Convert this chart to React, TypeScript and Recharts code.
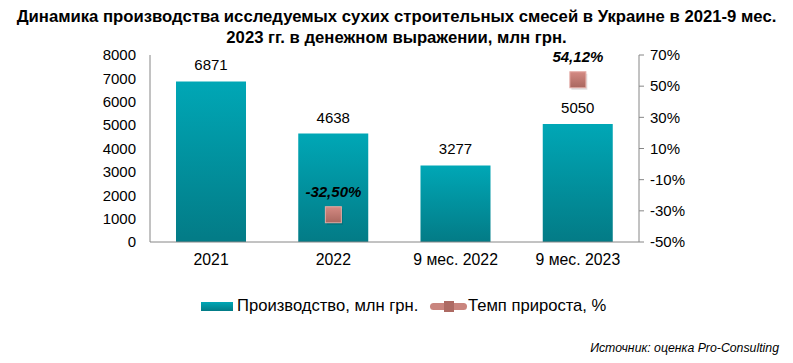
import React from "react";
import { ComposedChart, Bar, Line, XAxis, YAxis, LabelList } from "recharts";

const categories = ["2021", "2022", "9 мес. 2022", "9 мес. 2023"];
const production = [6871, 4638, 3277, 5050];
const growth: (number | null)[] = [null, -32.5, null, 54.12];
const leftTicks = [0, 1000, 2000, 3000, 4000, 5000, 6000, 7000, 8000];
const rightTicks = [-50, -30, -10, 10, 30, 50, 70];

const data = categories.map((c, i) => ({ name: c, production: production[i], growth: growth[i] }));

const FONT = "'Liberation Sans', Arial, sans-serif";
const AXIS = "#868686";

const fmtPct = (v: number) => v.toFixed(2).replace(".", ",") + "%";

const Marker = (props: any) => {
  const { cx, cy, value, payload } = props;
  const v = value ?? payload?.growth;
  if (v === null || v === undefined || cx == null || cy == null || isNaN(cy)) return null;
  const s = 16;
  return (
    <g>
      <rect x={cx - s / 2 + 1.5} y={cy - s / 2 + 2} width={s} height={s} fill="#000" opacity={0.12} />
      <rect x={cx - s / 2} y={cy - s / 2} width={s} height={s} fill="url(#mk)" stroke="#e3aaa4" strokeWidth={1} />
    </g>
  );
};

const PctLabel = (props: any) => {
  const { x, y, value } = props;
  if (value === null || value === undefined || y == null || isNaN(y)) return null;
  return (
    <text x={x} y={y - 18} textAnchor="middle" fontFamily={FONT} fontSize={15} fontWeight="bold" fontStyle="italic" fill="#000">
      {fmtPct(value)}
    </text>
  );
};

export default function App() {
  return (
    <div style={{ position: "absolute", left: 0, top: 0, width: 793, height: 363, background: "#fff", fontFamily: FONT }}>
      <div
        style={{
          position: "absolute",
          left: 0,
          top: 6,
          width: 793,
          textAlign: "center",
          fontFamily: FONT,
          fontWeight: "bold",
          fontSize: 16.7,
          lineHeight: "21px",
          color: "#000",
        }}
      >
        Динамика производства исследуемых сухих строительных смесей в Украине в 2021-9 мес.
        <br />
        2023 гг. в денежном выражении, млн грн.
      </div>
      <ComposedChart
        width={793}
        height={363}
        data={data}
        margin={{ top: 55, right: 0, bottom: 91, left: 0 }}
        style={{ position: "absolute", left: 0, top: 0 }}
      >
        <defs>
          <linearGradient id="bar" x1="0" y1="0" x2="0" y2="1">
            <stop offset="0%" stopColor="#00a7b6" />
            <stop offset="100%" stopColor="#037b86" />
          </linearGradient>
          <linearGradient id="mk" x1="0" y1="0" x2="0" y2="1">
            <stop offset="0%" stopColor="#d48a83" />
            <stop offset="100%" stopColor="#a9675f" />
          </linearGradient>
        </defs>
        <XAxis
          dataKey="name"
          height={30}
          stroke={AXIS}
          tickLine={false}
          tickSize={4}
          tickMargin={8}
          tick={{ fill: "#000", fontSize: 15.8, fontFamily: FONT }}
          interval={0}
        />
        <YAxis
          yAxisId="left"
          width={150}
          domain={[0, 8000]}
          ticks={leftTicks}
          stroke={AXIS}
          tickLine={false}
          tickSize={6}
          tickMargin={8}
          tick={{ fill: "#000", fontSize: 15, fontFamily: FONT }}
          interval={0}
        />
        <YAxis
          yAxisId="right"
          orientation="right"
          width={154}
          domain={[-50, 70]}
          ticks={rightTicks}
          stroke={AXIS}
          tickSize={5}
          tickMargin={6}
          tickFormatter={(v: number) => v + "%"}
          tick={{ fill: "#000", fontSize: 15, fontFamily: FONT }}
          interval={0}
        />
        <Bar yAxisId="left" dataKey="production" fill="url(#bar)" barSize={70} isAnimationActive={false}>
          <LabelList dataKey="production" position="top" offset={11} fill="#000" fontSize={15} fontFamily={FONT} />
        </Bar>
        <Line
          yAxisId="right"
          dataKey="growth"
          stroke="none"
          dot={<Marker />}
          activeDot={false}
          isAnimationActive={false}
          connectNulls={false}
        >
          <LabelList dataKey="growth" content={<PctLabel />} />
        </Line>
      </ComposedChart>
      <div style={{ position: "absolute", left: 201, top: 302, width: 32, height: 9, background: "linear-gradient(#00a7b6, #037b86)" }} />
      <div style={{ position: "absolute", left: 237, top: 296, fontSize: 16.6, lineHeight: "20px", color: "#000", whiteSpace: "nowrap" }}>
        Производство, млн грн.
      </div>
      <div style={{ position: "absolute", left: 430, top: 303, width: 37, height: 7, borderRadius: 4, background: "#c9857e" }} />
      <div style={{ position: "absolute", left: 444, top: 301, width: 10, height: 11, background: "#ad6a63" }} />
      <div style={{ position: "absolute", left: 468, top: 296, fontSize: 16.6, lineHeight: "20px", color: "#000", whiteSpace: "nowrap" }}>
        Темп прироста, %
      </div>
      <div style={{ position: "absolute", right: 14, top: 341, fontSize: 12.3, fontStyle: "italic", color: "#000", whiteSpace: "nowrap" }}>
        Источник: оценка Pro-Consulting
      </div>
    </div>
  );
}
